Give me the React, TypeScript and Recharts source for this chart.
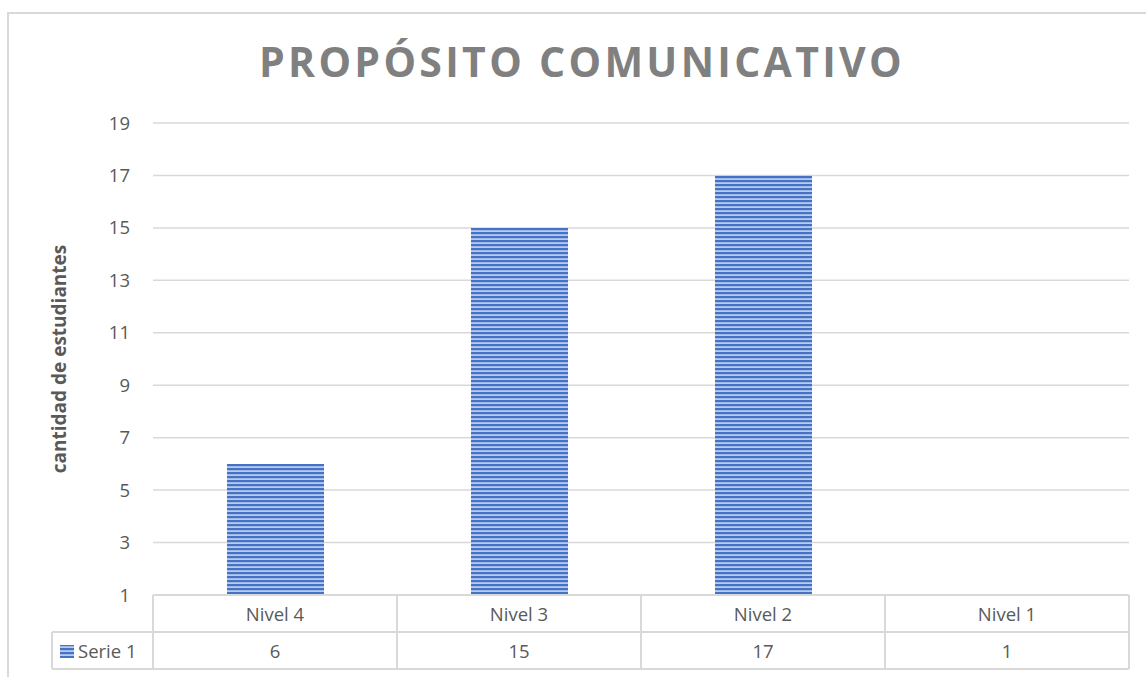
import { Bar, BarChart, CartesianGrid, XAxis, YAxis } from 'recharts';

const categories = ['Nivel 4', 'Nivel 3', 'Nivel 2', 'Nivel 1'];
const serie1 = [6, 15, 17, 1];
const seriesName = 'Serie 1';
const yTicks = [1, 3, 5, 7, 9, 11, 13, 15, 17, 19];
const title = 'PROPÓSITO COMUNICATIVO';
const yLabel = 'cantidad de estudiantes';

const data = categories.map((name, i) => ({ name, value: serie1[i] }));

const FONT = '"Open Sans", sans-serif';
const GRID = '#d9d9d9';
const TEXT = '#595959';
const COL_W = 244;
const ROW_H = 37;

function TableTick(props: any) {
  const { x, y, payload, index } = props;
  const left = x - COL_W / 2;
  const right = x + COL_W / 2;
  const top = y;
  const mid = top + ROW_H;
  const bottom = top + ROW_H * 2;
  const last = index === categories.length - 1;
  return (
    <g>
      <line x1={left} y1={top} x2={left} y2={bottom} stroke={GRID} strokeWidth={2} />
      {last && <line x1={right} y1={top} x2={right} y2={bottom} stroke={GRID} strokeWidth={2} />}
      <line x1={left} y1={mid} x2={right} y2={mid} stroke={GRID} strokeWidth={2} />
      <line x1={left} y1={bottom} x2={right} y2={bottom} stroke={GRID} strokeWidth={2} />
      <text x={x} y={top + ROW_H / 2 + 7} textAnchor="middle" fill={TEXT} fontSize={18.5} fontFamily={FONT}>
        {payload.value}
      </text>
      <text x={x} y={mid + ROW_H / 2 + 7} textAnchor="middle" fill={TEXT} fontSize={18.5} fontFamily={FONT}>
        {serie1[index]}
      </text>
      {index === 0 && (
        <g>
          <line x1={52} y1={mid} x2={left} y2={mid} stroke={GRID} strokeWidth={2} />
          <line x1={52} y1={bottom} x2={left} y2={bottom} stroke={GRID} strokeWidth={2} />
          <line x1={52} y1={mid} x2={52} y2={bottom} stroke={GRID} strokeWidth={2} />
          <rect x={60} y={mid + 13} width={14} height={13} fill="url(#stripes)" />
          <text x={78} y={mid + ROW_H / 2 + 7} fill={TEXT} fontSize={18.5} fontFamily={FONT}>
            {seriesName}
          </text>
        </g>
      )}
    </g>
  );
}

export default function App() {
  return (
    <div
      style={{
        position: 'fixed',
        left: 0,
        top: 0,
        width: 1146,
        height: 677,
        overflow: 'hidden',
        background: '#fff',
      }}
    >
      <div
        style={{
          position: 'absolute',
          left: 7,
          top: 12,
          width: 1200,
          height: 700,
          border: `2px solid ${GRID}`,
          boxSizing: 'border-box',
        }}
      />
      <div
        style={{
          position: 'absolute',
          left: 0,
          width: 1164,
          top: 31,
          textAlign: 'center',
          fontFamily: FONT,
          fontWeight: 700,
          fontSize: 41,
          letterSpacing: 3.3,
          color: '#808080',
          lineHeight: '60px',
        }}
      >
        {title}
      </div>
      <div style={{ position: 'absolute', left: 0, top: 0 }}>
        <BarChart width={1146} height={677} data={data} margin={{ top: 123, right: 17, left: 0, bottom: 8 }}>
          <defs>
            <pattern id="stripes" width={4} height={4} patternUnits="userSpaceOnUse">
              <rect x={0} y={0} width={4} height={4} fill="#b9cbec" />
              <rect x={0} y={0} width={4} height={2.2} fill="#4472c4" />
            </pattern>
          </defs>
          <CartesianGrid vertical={false} stroke={GRID} strokeWidth={1.5} />
          <YAxis
            width={153}
            domain={[1, 19]}
            ticks={yTicks}
            interval={0}
            axisLine={false}
            tickLine={false}
            tickSize={0}
            tickMargin={23}
            tick={{ fill: TEXT, fontSize: 18.5, fontFamily: FONT }}
            label={{
              value: yLabel,
              angle: -90,
              position: 'insideLeft',
              dx: 54,
              fill: TEXT,
              fontSize: 19,
              fontWeight: 700,
              fontFamily: FONT,
              style: { textAnchor: 'middle' },
            }}
          />
          <XAxis
            dataKey="name"
            height={74}
            axisLine={{ stroke: GRID, strokeWidth: 2 }}
            tickLine={false}
            tickSize={0}
            tickMargin={0}
            interval={0}
            tick={<TableTick />}
          />
          <Bar dataKey="value" barSize={97} fill="url(#stripes)" isAnimationActive={false} />
        </BarChart>
      </div>
    </div>
  );
}
